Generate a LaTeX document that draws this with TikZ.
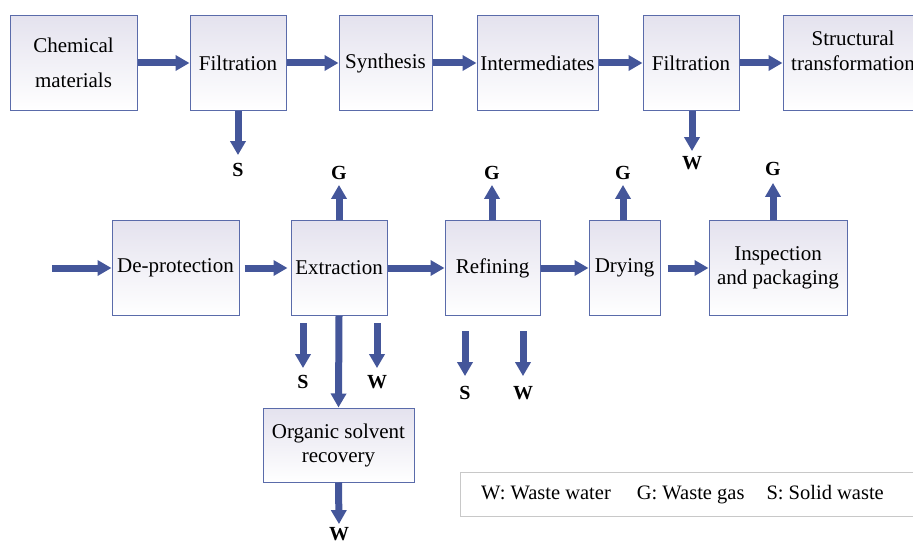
\documentclass[tikz,border=0pt]{standalone}
\usepackage{fontspec}
\setmainfont{Liberation Serif}
\usepackage{tikz}
\usetikzlibrary{arrows.meta}
\definecolor{flowblue}{HTML}{44569A}
\definecolor{boxline}{HTML}{5A6BAA}
\definecolor{boxlav}{HTML}{E4E2EE}
\definecolor{legline}{HTML}{C8C8C8}
\tikzset{%
  tipA/.tip={Triangle[width=15pt,length=14pt]},
  box/.style={draw=boxline, line width=1pt, top color=boxlav, bottom color=white,
    align=center, minimum height=95pt, inner sep=2pt,
    font=\fontsize{21}{24}\selectfont},
  flow/.style={draw=flowblue, line width=7pt, -tipA},
  waste/.style={font=\bfseries\fontsize{20}{22}\selectfont, inner sep=1pt}
}

\begin{document}
\begin{tikzpicture}[x=1pt,y=-1pt]
\useasboundingbox (0,0) rectangle (913,543);
\clip (0,0) rectangle (913,543);
% first row
\node[box, minimum width=127pt] (chem) at (73.5,63) {Chemical\\[11pt]materials};
\node[box, minimum width=96pt] (filtA) at (238,63) {Filtration};
\node[box, minimum width=93pt] (synth) at (385.5,63) {Synthesis};
\node[box, minimum width=121pt] (inter) at (537.5,63) {Intermediates};
\node[box, minimum width=96pt] (filtB) at (691,63) {Filtration};
\node[box, minimum width=140pt] (struct) at (853,63) {};
\node[font=\fontsize{21}{25}\selectfont, align=center] (structT) at (853,51) {Structural\\transformation};
\draw[flow] (chem.east) -- (filtA.west);
\draw[flow] (filtA.east) -- (synth.west);
\draw[flow] (synth.east) -- (inter.west);
\draw[flow] (inter.east) -- (filtB.west);
\draw[flow] (filtB.east) -- (struct.west);
\node[waste] (sA) at (238,170) {S};
\node[waste] (wB) at (692,163) {W};
\draw[flow, shorten >=7pt] (filtA.south) -- (sA.north);
\draw[flow, shorten >=4pt] (wB |- filtB.south) -- (wB.north);
% second row
\coordinate (start) at (52,268);
\node[box, minimum width=127pt] (deprot) at (175.5,268) {De-protection};
\node[box, minimum width=96pt] (extr) at (339,268) {Extraction};
\node[box, minimum width=95pt] (refin) at (492.5,268) {Refining};
\node[box, minimum width=71pt] (dry) at (624.5,268) {Drying};
\node[box, minimum width=138pt] (insp) at (778,268) {Inspection\\and packaging};
\node[box, minimum width=151pt, minimum height=74pt] (organ) at (338.5,445) {Organic solvent\\recovery};
\draw[flow] (start) -- (deprot.west);
\draw[flow, shorten <=5pt, shorten >=3pt] (deprot.east) -- (extr.west);
\draw[flow] (extr.east) -- (refin.west);
\draw[flow] (refin.east) -- (dry.west);
\draw[flow, shorten <=7pt] (dry.east) -- (insp.west);
\draw[flow] (extr.south) -- (organ.north);
% waste streams
\node[waste] (gE) at (339,173) {G};
\node[waste] (gR) at (492,173) {G};
\node[waste] (gD) at (623,173) {G};
\node[waste] (gI) at (773,169) {G};
\draw[flow, shorten >=4pt] (gE |- extr.north) -- (gE.south);
\draw[flow, shorten >=4pt] (gR |- refin.north) -- (gR.south);
\draw[flow, shorten >=4pt] (gD |- dry.north) -- (gD.south);
\draw[flow, shorten >=6pt] (gI |- insp.north) -- (gI.south);
\node[waste] (sE) at (303,382) {S};
\node[waste] (wE) at (377,382) {W};
\node[waste] (sR) at (465,393) {S};
\node[waste] (wR) at (523,393) {W};
\node[waste] (wO) at (339,534) {W};
\draw[flow, shorten <=7pt, shorten >=6pt] (sE |- extr.south) -- (sE.north);
\draw[flow, shorten <=7pt, shorten >=6pt] (wE |- extr.south) -- (wE.north);
\draw[flow, shorten <=15pt, shorten >=9pt] (sR |- refin.south) -- (sR.north);
\draw[flow, shorten <=15pt, shorten >=9pt] (wR |- refin.south) -- (wR.north);
\draw[flow, shorten >=2pt] (organ.south) -- (wO.north);
% legend
\node[draw=legline, line width=1pt, minimum height=44pt, minimum width=470pt,
  anchor=west] (legend) at (460,494.5) {};
\node[font=\fontsize{20.5}{24}\selectfont, anchor=west, inner sep=0pt] (legT) at (481,495)
  {W: Waste water\hspace{26pt}G: Waste gas\hspace{22pt}S: Solid waste};
\end{tikzpicture}
\end{document}
